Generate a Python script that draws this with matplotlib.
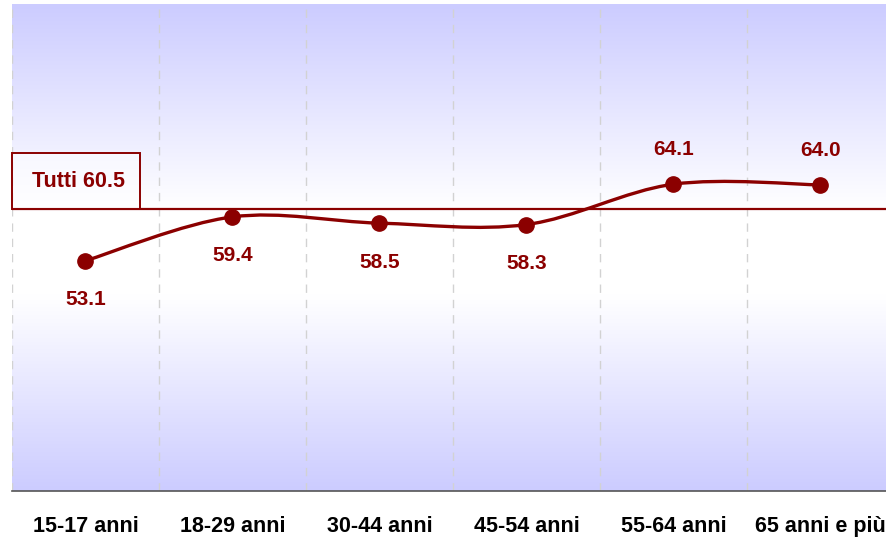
import numpy as np
import matplotlib.pyplot as plt
import matplotlib.transforms as mtransforms
from matplotlib.path import Path
from matplotlib.patches import PathPatch, Rectangle
from matplotlib.colors import LinearSegmentedColormap

plt.rcParams['font.family'] = ['Liberation Sans', 'DejaVu Sans']

categories = ["15-17 anni", "18-29 anni", "30-44 anni", "45-54 anni", "55-64 anni", "65 anni e più"]
values = [53.1, 59.4, 58.5, 58.3, 64.1, 64.0]
label_above = [False, False, False, False, True, True]
overall_label = "Tutti"
overall_value = 60.5

dark_red = "#8b0000"

fig = plt.figure(figsize=(8.87, 5.38), dpi=100)
# axes run a bit past the right edge of the figure
ax = fig.add_axes([12 / 887, 47 / 538, 882 / 887, 487 / 538])
ax.set_xlim(-0.5, len(categories) - 0.5)
ax.set_ylim(20, 90)

# vertical gradient: lavender - white - lavender
grad_cmap = LinearSegmentedColormap.from_list(
    "bg", [(0.0, "#ccccff"), (0.42, "#ffffff"), (0.6, "#ffffff"), (1.0, "#ccccff")])
grad = np.linspace(0, 1, 256).reshape(-1, 1)
ax.imshow(grad, aspect="auto", cmap=grad_cmap, extent=[0, 1, 0, 1],
          transform=ax.transAxes, zorder=0, interpolation="bicubic")

# dashed separators between categories
for b in np.arange(-0.5, len(categories), 1.0):
    ax.axvline(b, color="#d2d2d2", lw=1, ls=(0, (6, 5)), zorder=1)

# overall average line
ax.axhline(overall_value, color=dark_red, lw=1.6, zorder=2)

# smoothed line through points (cardinal spline as cubic bezier)
x = np.arange(len(values), dtype=float)
y = np.array(values)
verts = [(x[0], y[0])]
codes = [Path.MOVETO]
for i in range(len(x) - 1):
    x0, y0 = (x[i - 1], y[i - 1]) if i > 0 else (x[i], y[i])
    x3, y3 = (x[i + 2], y[i + 2]) if i + 2 < len(x) else (x[i + 1], y[i + 1])
    c1 = (x[i] + (x[i + 1] - x0) / 6, y[i] + (y[i + 1] - y0) / 6)
    c2 = (x[i + 1] - (x3 - x[i]) / 6, y[i + 1] - (y3 - y[i]) / 6)
    verts += [c1, c2, (x[i + 1], y[i + 1])]
    codes += [Path.CURVE4] * 3
ax.add_patch(PathPatch(Path(verts, codes), fill=False, edgecolor=dark_red,
                       lw=2.4, zorder=3, capstyle="round"))
ax.plot(x, y, "o", color=dark_red, ms=11, zorder=4)

for xi, yi, up in zip(x, y, label_above):
    ax.annotate(f"{yi:.1f}", (xi, yi), xytext=(0, 25 if up else -28),
                textcoords="offset points", ha="center", va="center",
                fontsize=15, fontweight="bold", color=dark_red, zorder=5)

# boxed label sitting on the average line, at the left edge
box_tr = fig.dpi_scale_trans + mtransforms.ScaledTranslation(-0.5, overall_value, ax.transData)
ax.add_patch(Rectangle((0, 0), 1.28, 0.56, transform=box_tr, fc=(1, 1, 1, 0.5),
                       ec=dark_red, lw=1.4, zorder=5, clip_on=False))
ax.text(0.66, 0.28, f"{overall_label} {overall_value:.1f}", transform=box_tr,
        ha="center", va="center", fontsize=15.5, fontweight="bold",
        color=dark_red, zorder=6)

ax.set_xticks(x)
ax.set_xticklabels(categories, fontsize=15.5, fontweight="bold")
ax.tick_params(axis="x", length=0, pad=18)
ax.set_yticks([])
for side in ["left", "right", "top"]:
    ax.spines[side].set_visible(False)
ax.spines["bottom"].set_color("#555555")
ax.spines["bottom"].set_linewidth(1.2)

fig.savefig("out.png", dpi=100)
